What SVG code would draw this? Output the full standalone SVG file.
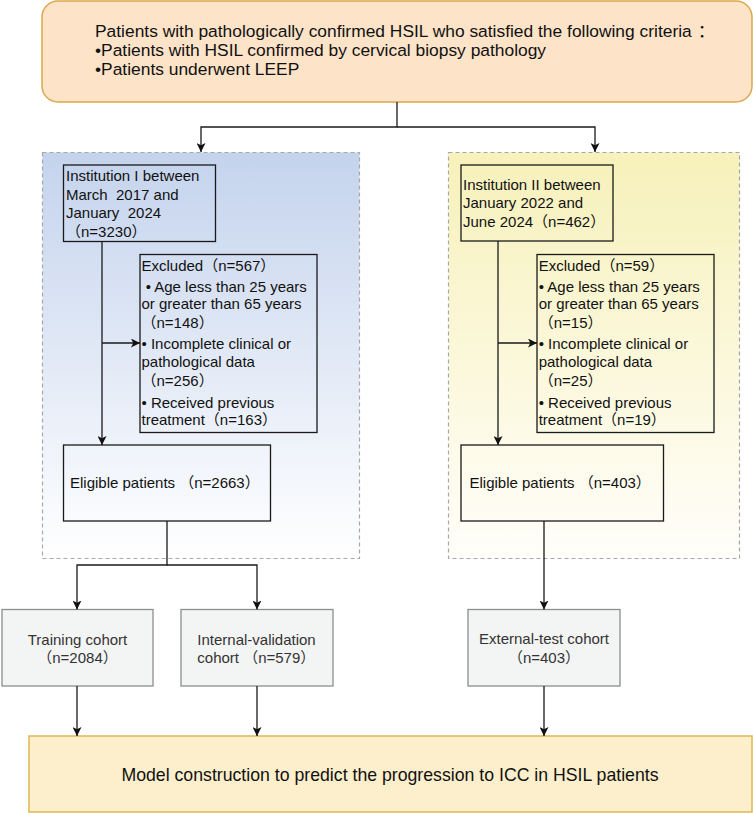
<svg xmlns="http://www.w3.org/2000/svg" width="753" height="813" viewBox="0 0 753 813">
<defs>
<linearGradient id="gBlue" x1="0" y1="0" x2="0" y2="1">
<stop offset="0" stop-color="#c4d3ed"/>
<stop offset="1" stop-color="#ffffff"/>
</linearGradient>
<linearGradient id="gYellow" x1="0" y1="0" x2="0" y2="1">
<stop offset="0" stop-color="#f7f1ba"/>
<stop offset="1" stop-color="#fffefa"/>
</linearGradient>
<marker id="arr" viewBox="0 0 10 10" refX="10" refY="5" markerWidth="9" markerHeight="9" markerUnits="userSpaceOnUse" orient="auto">
<path d="M0,0 L10,5 L0,10 L2.5,5 z" fill="#111"/>
</marker>
<style>
text{font-family:"Liberation Sans","Noto Sans CJK SC",Arial,sans-serif;white-space:pre;fill:#111}
.big{font-size:17.4px}
.bot{font-size:17.7px}
.t{font-size:15px}
.c{font-size:15px;fill:#333;text-anchor:middle}
.cs{font-size:15px;fill:#333}
.box{fill:none;stroke:#1a1a1a;stroke-width:1.3}
.cohort{fill:#f3f4f4;stroke:#8c8f8f;stroke-width:1.3}
.cont{stroke:#a8a8a8;stroke-width:1.2;stroke-dasharray:4 3}
.ln{fill:none;stroke:#1a1a1a;stroke-width:1.3}
</style>
</defs>

<g id="containers">
<rect id="container-1" class="cont" x="42.5" y="152.5" width="317" height="406" fill="url(#gBlue)"/>
<rect id="container-2" class="cont" x="448.5" y="152.5" width="291" height="406" fill="url(#gYellow)"/>
</g>

<g id="criteria">
<rect x="42" y="1" width="710" height="101" rx="16" fill="#fde3c8" stroke="#dca84e" stroke-width="1.5"/>
<text class="big" x="95" y="36.5">Patients with pathologically confirmed HSIL who satisfied the following criteria<tspan dx="6">：</tspan></text>
<text class="big" x="95" y="56">•Patients with HSIL confirmed by cervical biopsy pathology</text>
<text class="big" x="95" y="75">•Patients underwent LEEP</text>
</g>

<g id="institution-1">
<rect class="box" x="63.5" y="165" width="152" height="76.5"/>
<text class="t" x="66" y="181">Institution I between</text>
<text class="t" x="66" y="199.5">March  2017 and</text>
<text class="t" x="66" y="218">January  2024</text>
<text class="t" x="66" y="237">（n=3230）</text>
</g>

<g id="excluded-1">
<rect class="box" x="140" y="254.5" width="177" height="178"/>
<text class="t" x="141.5" y="270.7">Excluded（n=567）</text>
<text class="t" x="141.5" y="291.7"> • Age less than 25 years</text>
<text class="t" x="141.5" y="309.3">or greater than 65 years</text>
<text class="t" x="141.5" y="327.5">（n=148）</text>
<text class="t" x="141.5" y="349">• Incomplete clinical or</text>
<text class="t" x="141.5" y="367.3">pathological data</text>
<text class="t" x="141.5" y="386">（n=256）</text>
<text class="t" x="141.5" y="407.5">• Received previous</text>
<text class="t" x="141.5" y="425.3">treatment（n=163）</text>
</g>

<g id="eligible-1">
<rect class="box" x="63.5" y="445" width="207" height="76"/>
<text class="t" x="70" y="488">Eligible patients （n=2663）</text>
</g>

<g id="institution-2">
<rect class="box" x="461" y="165" width="152" height="76"/>
<text class="t" x="463" y="189.5">Institution II between</text>
<text class="t" x="463" y="208">January 2022 and</text>
<text class="t" x="463" y="226.5">June 2024（n=462）</text>
</g>

<g id="excluded-2">
<rect class="box" x="537" y="254.5" width="177" height="178"/>
<text class="t" x="538.7" y="270.7">Excluded（n=59）</text>
<text class="t" x="538.7" y="291.7">• Age less than 25 years</text>
<text class="t" x="538.7" y="309.3">or greater than 65 years</text>
<text class="t" x="538.7" y="327.5">（n=15）</text>
<text class="t" x="538.7" y="349">• Incomplete clinical or</text>
<text class="t" x="538.7" y="367.3">pathological data</text>
<text class="t" x="538.7" y="386">（n=25）</text>
<text class="t" x="538.7" y="407.5">• Received previous</text>
<text class="t" x="538.7" y="425.3">treatment（n=19）</text>
</g>

<g id="eligible-2">
<rect class="box" x="461" y="445" width="202.5" height="76"/>
<text class="t" x="469.5" y="488">Eligible patients （n=403）</text>
</g>

<g id="training">
<rect class="cohort" x="2" y="609.5" width="151" height="76.5"/>
<text class="c" x="77.5" y="645">Training cohort</text>
<text class="c" x="77.5" y="663">（n=2084）</text>
</g>

<g id="internal-validation">
<rect class="cohort" x="181" y="609.5" width="152" height="76.5"/>
<text class="cs" x="197.3" y="645">Internal-validation</text>
<text class="cs" x="197.3" y="663">cohort （n=579）</text>
</g>

<g id="external-test">
<rect class="cohort" x="468" y="609.5" width="152" height="76.5"/>
<text class="c" x="544" y="644">External-test cohort</text>
<text class="c" x="544" y="662.5">（n=403）</text>
</g>

<g id="model">
<rect x="29" y="736" width="723" height="76" fill="#fdefcb" stroke="#dfb84e" stroke-width="1.5"/>
<text class="bot" x="390" y="780.5" text-anchor="middle">Model construction to predict the progression to ICC in HSIL patients</text>
</g>

<g id="connectors">
<path class="ln" d="M397,102 V127 H201 V152" marker-end="url(#arr)"/>
<path class="ln" d="M397,127 H595 V152" marker-end="url(#arr)"/>
<path class="ln" d="M102,241.5 V445" marker-end="url(#arr)"/>
<path class="ln" d="M102,343 H140" marker-end="url(#arr)"/>
<path class="ln" d="M498,241 V445" marker-end="url(#arr)"/>
<path class="ln" d="M498,343 H537" marker-end="url(#arr)"/>
<path class="ln" d="M167,521 V565 H77 V609.5" marker-end="url(#arr)"/>
<path class="ln" d="M167,565 H257 V609.5" marker-end="url(#arr)"/>
<path class="ln" d="M544,521 V609.5" marker-end="url(#arr)"/>
<path class="ln" d="M77,686 V736" marker-end="url(#arr)"/>
<path class="ln" d="M257,686 V736" marker-end="url(#arr)"/>
<path class="ln" d="M544,686 V736" marker-end="url(#arr)"/>
</g>
</svg>
